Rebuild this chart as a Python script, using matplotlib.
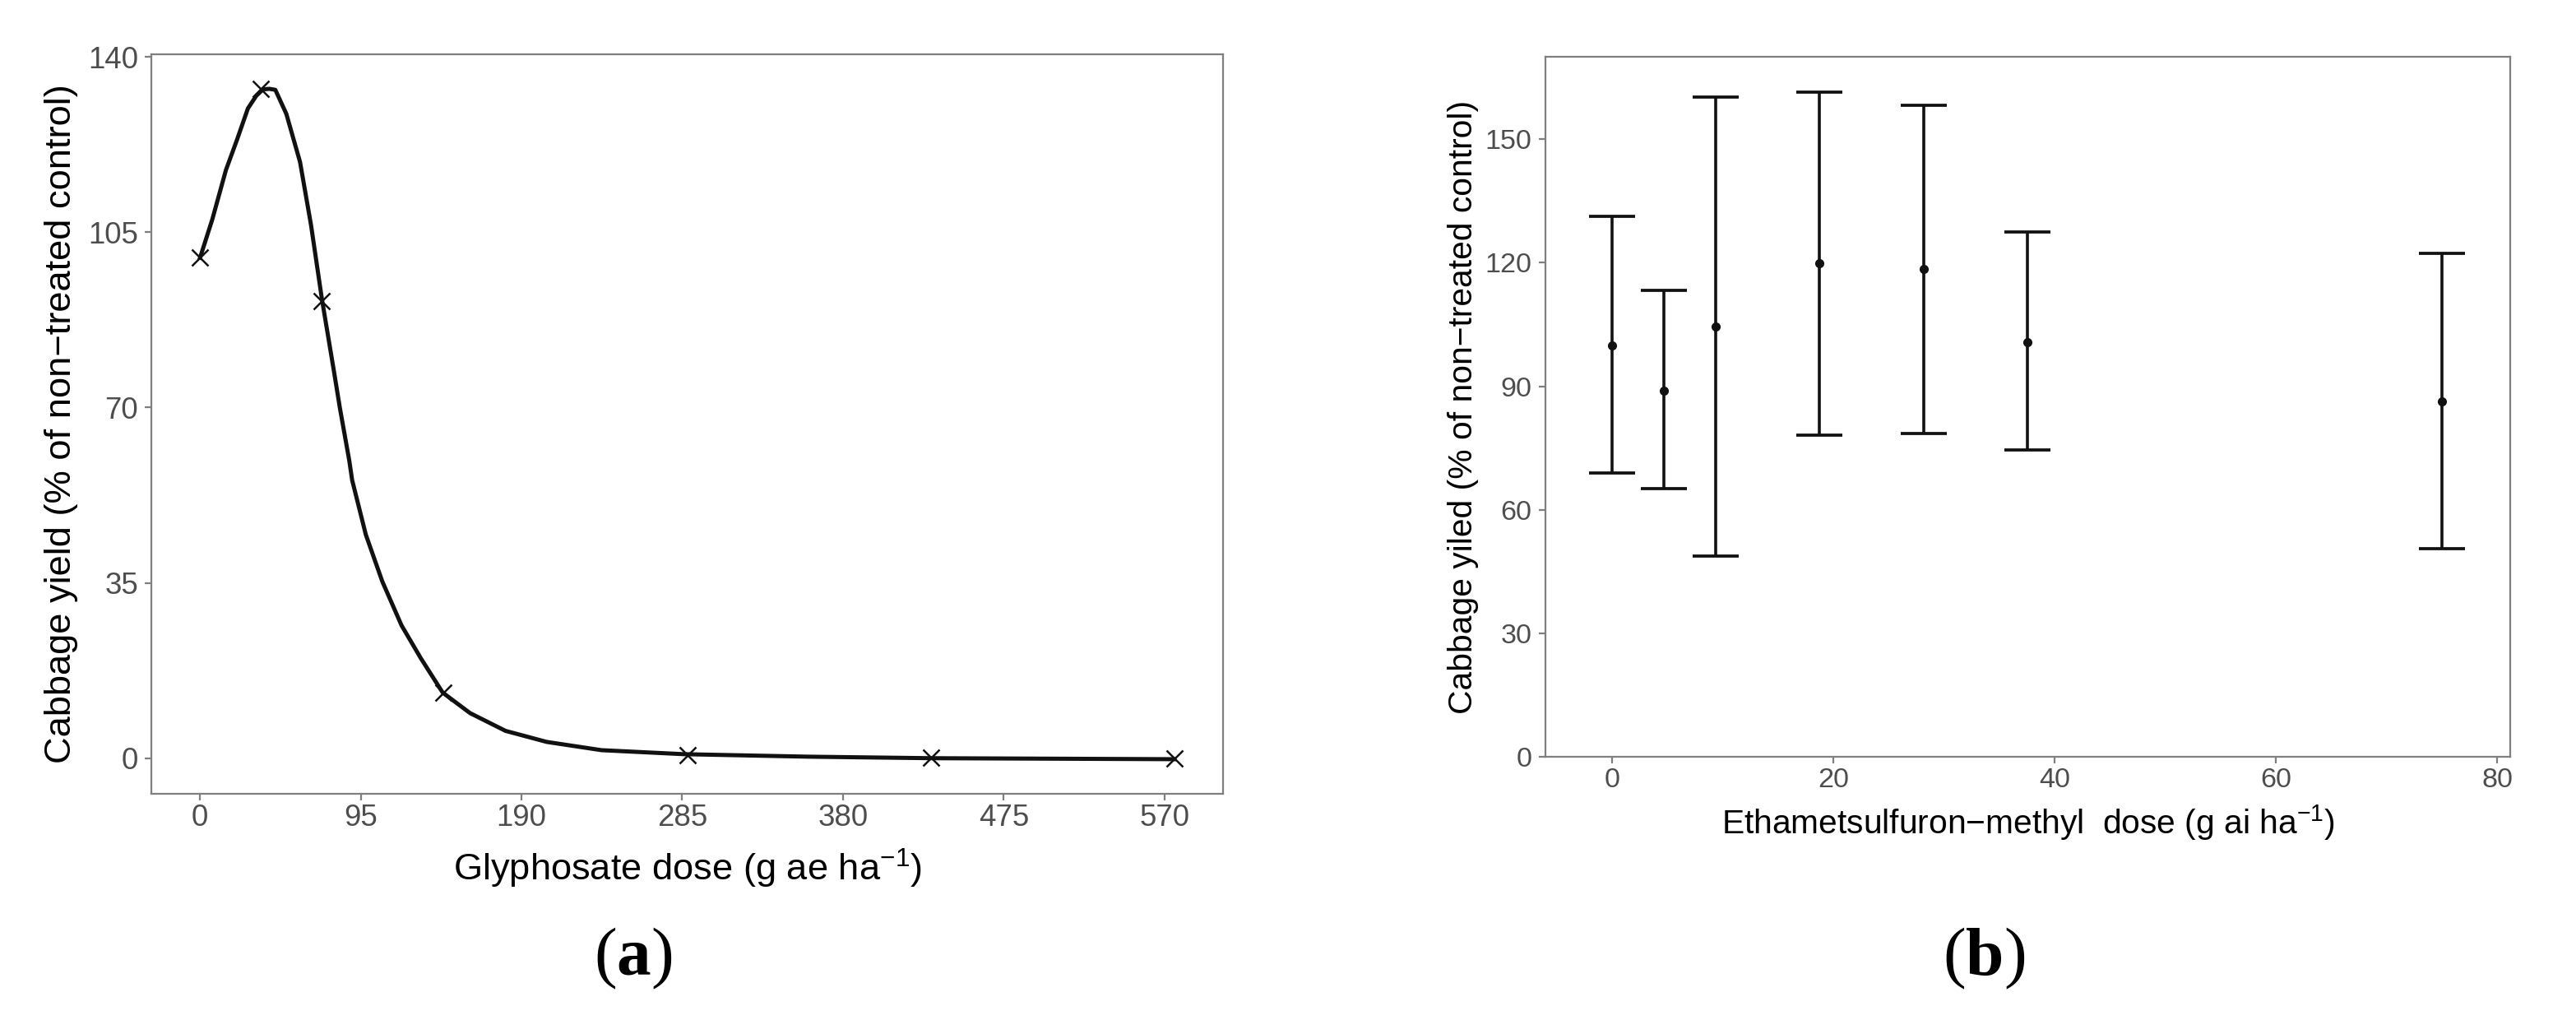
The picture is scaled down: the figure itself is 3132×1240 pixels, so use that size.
import matplotlib
import matplotlib.pyplot as plt

matplotlib.use('Agg')

plt.rcParams['font.family'] = ['Liberation Sans', 'DejaVu Sans']
plt.rcParams['mathtext.fontset'] = 'custom'
plt.rcParams['mathtext.rm'] = 'Liberation Sans'
plt.rcParams['mathtext.it'] = 'Liberation Sans:italic'
plt.rcParams['mathtext.bf'] = 'Liberation Serif:bold'
plt.rcParams['mathtext.default'] = 'regular'

glyph_dose = [0, 36, 72, 144, 288, 432, 576]
glyph_yield = [100, 133.6, 91.2, 13.1, 0.6, 0.1, 0.0]
curve_dose = [0, 7.2, 15.3, 21.8, 28.3, 33.2, 37.2, 41.0, 44.5, 51.0, 59.1, 65.6,
              72.0, 79.3, 82.6, 88.2, 89.9, 98.0, 107.7, 119.1, 130.4, 143.4,
              159.6, 180.6, 204.9, 237.3, 286, 360, 432, 504, 576]
curve_yield = [99.9, 107.5, 117.4, 123.4, 129.7, 132.2, 133.5, 133.6, 133.4, 128.6,
               119.0, 106.4, 91.7, 76.9, 70.0, 59.4, 55.5, 44.6, 35.3, 26.5, 20.0,
               13.1, 9.0, 5.45, 3.25, 1.6, 0.8, 0.3, 0.0, -0.1, -0.2]
glyph_ticks = [0, 95, 190, 285, 380, 475, 570]
glyph_yticks = [0, 35, 70, 105, 140]

# (b) ethametsulfuron-methyl: means with interval limits
eth_dose = [0, 4.6875, 9.375, 18.75, 28.125, 37.5, 75]
eth_mean = [100.0, 89.0, 104.4, 119.8, 118.4, 100.8, 86.4]
eth_low = [68.9, 65.1, 48.7, 78.2, 78.6, 74.5, 50.5]
eth_high = [131.3, 113.3, 160.2, 161.5, 158.3, 127.4, 122.2]
eth_ticks = [0, 20, 40, 60, 80]
eth_yticks = [0, 30, 60, 90, 120, 150]

FRAME = '#7f7f7f'
TICKTXT = '#4d4d4d'
INK = '#111111'


def style_axes(ax, tick_size):
    for s in ax.spines.values():
        s.set_color(FRAME)
        s.set_linewidth(0.8)
    ax.tick_params(colors=FRAME, labelcolor=TICKTXT, labelsize=tick_size,
                   length=2.9, width=0.8)
    ax.tick_params(axis='x', pad=1.5)
    ax.tick_params(axis='y', pad=2.8)


fig = plt.figure(figsize=(15.66, 6.2), dpi=200)

ax1 = fig.add_axes([0.05875, 0.2218, 0.4161, 0.725])
ax1.plot(curve_dose, curve_yield, color=INK, lw=1.8, solid_joinstyle='round')
ax1.plot(glyph_dose, glyph_yield, ls='none', marker='x', ms=7, mew=0.9, color=INK)
ax1.set_xlim(-28.8, 604.8)
ax1.set_ylim(-7.1, 140.5)
ax1.set_xticks(glyph_ticks)
ax1.set_yticks(glyph_yticks)
style_axes(ax1, 13.2)
ax1.set_ylabel('Cabbage yield (% of non\u2212treated control)', fontsize=16.3, va='center')
ax1.yaxis.set_label_coords(-0.0837, 0.5)
ax1.set_xlabel('Glyphosate dose (g ae ha$^{-1}$)', fontsize=16.3, va='center')
ax1.xaxis.set_label_coords(0.5, -0.1012)

ax2 = fig.add_axes([0.5998, 0.2578, 0.3748, 0.6866])
err = [[m - lo for m, lo in zip(eth_mean, eth_low)],
       [hi - m for m, hi in zip(eth_mean, eth_high)]]
ax2.errorbar(eth_dose, eth_mean, yerr=err, fmt='o', color=INK, ms=3,
             elinewidth=1.3, capsize=10.2, capthick=1.35)
ax2.set_xlim(-6.07, 81.2)
ax2.set_ylim(0, 170)
ax2.set_xticks(eth_ticks)
ax2.set_yticks(eth_yticks)
style_axes(ax2, 12.3)
ax2.set_ylabel('Cabbage yiled (% of non\u2212treated control)', fontsize=14.7, va='center')
ax2.yaxis.set_label_coords(-0.0848, 0.5)
ax2.set_xlabel('Ethametsulfuron\u2212methyl  dose (g ai ha$^{-1}$)', fontsize=14.7, va='center')
ax2.xaxis.set_label_coords(0.5, -0.094)

fig.text(0.2458, 0.0605, r'($\mathbf{a}$)', family='Liberation Serif', fontsize=30,
         ha='center', va='center')
fig.text(0.770, 0.0605, r'($\mathbf{b}$)', family='Liberation Serif', fontsize=30,
         ha='center', va='center')

fig.savefig('out.png', dpi=200, facecolor='white')
